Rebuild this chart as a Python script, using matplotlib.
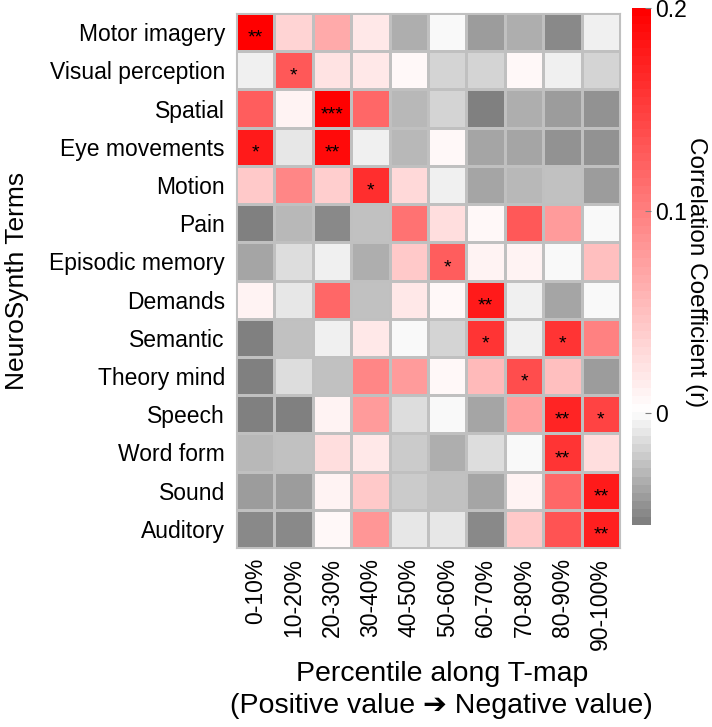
import numpy as np
import matplotlib
matplotlib.use("Agg")
import matplotlib.pyplot as plt
from matplotlib.colors import LinearSegmentedColormap

plt.rcParams['font.family'] = ['Liberation Sans', 'DejaVu Sans']

terms = ["Motor imagery", "Visual perception", "Spatial", "Eye movements", "Motion",
         "Pain", "Episodic memory", "Demands", "Semantic", "Theory mind",
         "Speech", "Word form", "Sound", "Auditory"]
bins = ["0-10%", "10-20%", "20-30%", "30-40%", "40-50%",
        "50-60%", "60-70%", "70-80%", "80-90%", "90-100%"]

r_values = np.array([
    [0.200, 0.033, 0.067, 0.018, -0.033, 0.000, -0.041, -0.033, -0.050, -0.005],
    [-0.005, 0.130, 0.023, 0.017, 0.005, -0.019, -0.019, 0.005, -0.006, -0.019],
    [0.125, 0.010, 0.200, 0.117, -0.029, -0.019, -0.055, -0.033, -0.041, -0.044],
    [0.180, -0.011, 0.190, -0.005, -0.029, 0.005, -0.037, -0.037, -0.044, -0.046],
    [0.043, 0.093, 0.040, 0.162, 0.032, -0.005, -0.037, -0.031, -0.024, -0.043],
    [-0.055, -0.031, -0.051, -0.024, 0.110, 0.027, 0.005, 0.130, 0.080, 0.000],
    [-0.037, -0.014, -0.005, -0.033, 0.043, 0.128, 0.012, 0.012, 0.000, 0.050],
    [0.010, -0.011, 0.117, -0.024, 0.018, 0.005, 0.180, -0.005, -0.037, 0.000],
    [-0.055, -0.024, -0.005, 0.017, 0.000, -0.019, 0.160, -0.005, 0.160, 0.100],
    [-0.055, -0.014, -0.024, 0.095, 0.080, 0.005, 0.053, 0.140, 0.050, -0.041],
    [-0.055, -0.052, 0.012, 0.080, -0.014, 0.000, -0.037, 0.075, 0.170, 0.145],
    [-0.029, -0.026, 0.027, 0.017, -0.020, -0.033, -0.014, 0.000, 0.160, 0.025],
    [-0.040, -0.041, 0.012, 0.043, -0.022, -0.026, -0.037, 0.012, 0.120, 0.180],
    [-0.048, -0.048, 0.005, 0.084, -0.011, -0.011, -0.048, 0.043, 0.135, 0.175],
])

# significance stars: (row, col, label)
stars = [(0, 0, "**"), (1, 1, "*"), (2, 2, "***"), (3, 0, "*"), (3, 2, "**"),
         (4, 3, "*"), (6, 5, "*"), (7, 6, "**"), (8, 6, "*"), (8, 8, "*"),
         (9, 7, "*"), (10, 8, "**"), (10, 9, "*"), (11, 8, "**"),
         (12, 9, "**"), (13, 9, "**")]

vmin, vmax = -0.055, 0.2
z = -vmin / (vmax - vmin)
cmap = LinearSegmentedColormap.from_list(
    "grayred", [(0, (0.5, 0.5, 0.5)), (z, (1, 1, 1)), (1, (1, 0, 0))], N=64)

fig = plt.figure(figsize=(7.12, 7.27), dpi=100)
ax = fig.add_axes([236/712, 1-548/727, 384/712, 535/727])
cax = fig.add_axes([632/712, 1-525/727, 19/712, 517/727])

im = ax.pcolormesh(r_values, cmap=cmap, vmin=vmin, vmax=vmax,
                   edgecolors='#c0c0c0', linewidth=1)
ax.set_xlim(0, len(bins))
ax.set_ylim(len(terms), 0)
for r, c, s in stars:
    ax.text(c + 0.5, r + 0.66, s, ha='center', va='center', fontsize=14, color='black')

ax.set_xticks(np.arange(len(bins)) + 0.5)
ax.set_xticklabels(bins, rotation=90, fontsize=16.5)
ax.set_yticks(np.arange(len(terms)) + 0.5)
ax.set_yticklabels(terms, fontsize=16.5)
ax.tick_params(axis='y', length=0, pad=8)
ax.tick_params(axis='x', length=0, pad=7)
for sp in ax.spines.values():
    sp.set_color('#c0c0c0')
ax.set_ylabel("NeuroSynth Terms", fontsize=19)
ax.yaxis.set_label_coords(-0.54, 0.5)
ax.set_xlabel("Percentile along T-map\n(Positive value \u2794 Negative value)",
              fontsize=20.5, linespacing=1.3)
ax.xaxis.set_label_coords(0.536, -0.212)

cb = fig.colorbar(im, cax=cax)
cb.set_ticks([0, 0.1, 0.2])
cb.set_ticklabels(["0", "0.1", "0.2"])
cb.ax.tick_params(labelsize=16.5, direction='in', length=4, color='#808080', pad=3)
cb.outline.set_visible(False)
cb.set_label("Correlation Coefficient (r)", rotation=270, fontsize=17.5)
cb.ax.yaxis.set_label_coords(3.95, 0.49)

fig.savefig("out.png", dpi=100)
